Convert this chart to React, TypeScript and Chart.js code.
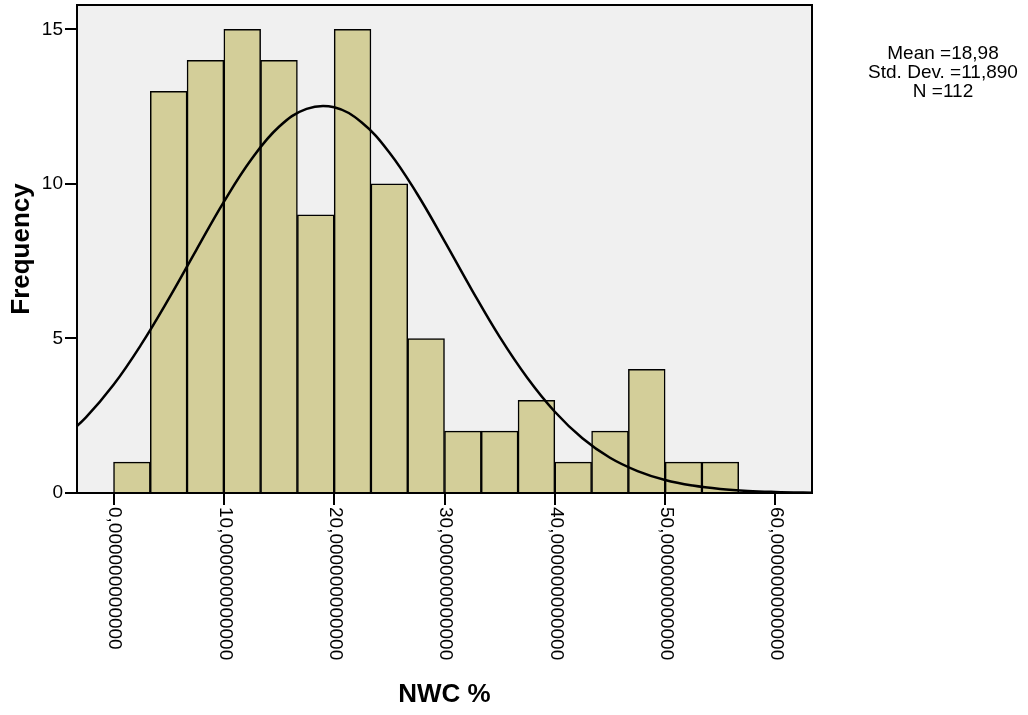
import React, { useEffect, useRef } from "react";
import { Chart, registerables } from "chart.js";

Chart.register(...registerables);

// Histogram bins (bin width ≈ 3.333): centers and frequencies
const binCenters = [1.667, 5, 8.333, 11.667, 15, 18.333, 21.667, 25, 28.333, 31.667, 35, 38.333, 41.667, 45, 48.333, 51.667, 55];
const frequencies = [1, 13, 14, 15, 14, 9, 15, 10, 5, 2, 2, 3, 1, 2, 4, 1, 1];

// Normal curve
const curveX = [-5, -2.5, 0, 2.5, 5, 7.5, 10, 12.5, 15, 17.5, 20, 22.5, 25, 27.5, 30, 32.5, 35, 37.5, 40, 42.5, 45, 47.5, 50, 52.5, 55, 57.5, 60, 62.5, 65];
const curveY = [1.64, 2.45, 3.5, 4.8, 6.28, 7.86, 9.42, 10.8, 11.85, 12.43, 12.48, 11.99, 11.02, 9.69, 8.15, 6.56, 5.05, 3.73, 2.63, 1.77, 1.14, 0.71, 0.42, 0.24, 0.13, 0.066, 0.033, 0.015, 0.006];

const xTickValues = [0, 10, 20, 30, 40, 50, 60];
const xTickLabels = [
  "0,000000000000",
  "10,000000000000",
  "20,000000000000",
  "30,000000000000",
  "40,000000000000",
  "50,000000000000",
  "60,000000000000",
];
const statsLines = ["Mean =18,98", "Std. Dev. =11,890", "N =112"];
const xTitle = "NWC %";
const yTitle = "Frequency";

const FONT = '"Liberation Sans", Arial, sans-serif';

const framePlugin = {
  id: "frame",
  beforeDraw(chart: any) {
    const { ctx, chartArea: a } = chart;
    ctx.save();
    ctx.fillStyle = "#ffffff";
    ctx.fillRect(0, 0, chart.width, chart.height);
    ctx.fillStyle = "#f0f0f0";
    ctx.fillRect(a.left, a.top, a.right - a.left, a.bottom - a.top);
    ctx.restore();
  },
  afterDraw(chart: any) {
    const { ctx, chartArea: a } = chart;
    ctx.save();
    ctx.strokeStyle = "#000";
    ctx.lineWidth = 2;
    ctx.strokeRect(a.left, a.top, a.right - a.left, a.bottom - a.top);

    // rotated x tick labels (reading top to bottom)
    const xs = chart.scales.x;
    ctx.font = `19px ${FONT}`;
    ctx.fillStyle = "#000";
    ctx.textAlign = "left";
    ctx.textBaseline = "middle";
    xTickValues.forEach((v, i) => {
      const px = xs.getPixelForValue(v);
      ctx.save();
      ctx.translate(px + 1, a.bottom + 14);
      ctx.rotate(Math.PI / 2);
      ctx.fillText(xTickLabels[i], 0, 0);
      ctx.restore();
    });

    // stats text
    ctx.textAlign = "center";
    ctx.textBaseline = "alphabetic";
    ctx.font = `19px ${FONT}`;
    statsLines.forEach((t, i) => {
      ctx.fillText(t, 943, 59 + i * 19);
    });
    ctx.restore();
  },
};

export default function App() {
  const ref = useRef<HTMLCanvasElement | null>(null);

  useEffect(() => {
    if (!ref.current) return;
    const chart = new Chart(ref.current, {
      type: "bar",
      data: {
        datasets: [
          {
            type: "line",
            data: curveX.map((x, i) => ({ x, y: curveY[i] })),
            borderColor: "#000",
            borderWidth: 2.5,
            pointRadius: 0,
            tension: 0.4,
            fill: false,
            order: 0,
          } as any,
          {
            type: "bar",
            data: binCenters.map((x, i) => ({ x, y: frequencies[i] })),
            backgroundColor: "rgb(211,206,153)",
            borderColor: "#000",
            borderWidth: 1.5,
            barPercentage: 1,
            categoryPercentage: 1,
            order: 1,
          } as any,
        ],
      },
      options: {
        responsive: false,
        animation: false,
        layout: { padding: { top: 5, right: 216, left: 0, bottom: 0 } },
        plugins: { legend: { display: false }, tooltip: { enabled: false } },
        scales: {
          x: {
            type: "linear",
            min: -3.31,
            max: 63.31,
            offset: false,
            ticks: { display: false, stepSize: 10, includeBounds: false },
            grid: {
              offset: false,
              drawOnChartArea: false,
              drawTicks: true,
              tickLength: 12,
              color: "#000",
              lineWidth: 2,
            },
            border: { display: false },
            title: {
              display: true,
              text: xTitle,
              color: "#000",
              font: { family: FONT, size: 26, weight: "bold" },
              padding: { top: 0, bottom: 5 },
            },
            afterFit: (s: any) => {
              s.height = 222;
              s.paddingLeft = 0;
              s.paddingRight = 0;
            },
          },
          y: {
            type: "linear",
            min: 0,
            max: 15.79,
            ticks: {
              stepSize: 5,
              includeBounds: false,
              color: "#000",
              font: { family: FONT, size: 19 },
              padding: 2,
            },
            grid: {
              drawOnChartArea: false,
              drawTicks: true,
              tickLength: 12,
              color: "#000",
              lineWidth: 2,
            },
            border: { display: false },
            title: {
              display: true,
              text: yTitle,
              color: "#000",
              font: { family: FONT, size: 26, weight: "bold" },
              padding: { top: 6, bottom: 0 },
            },
            afterFit: (s: any) => {
              s.width = 77;
              s.paddingTop = 0;
              s.paddingBottom = 0;
            },
          },
        },
      } as any,
      plugins: [framePlugin],
    });
    return () => chart.destroy();
  }, []);

  return (
    <div style={{ position: "fixed", left: 0, top: 0, width: 1028, height: 715, background: "#fff" }}>
      <canvas ref={ref} width={1028} height={715} style={{ display: "block" }} />
    </div>
  );
}
